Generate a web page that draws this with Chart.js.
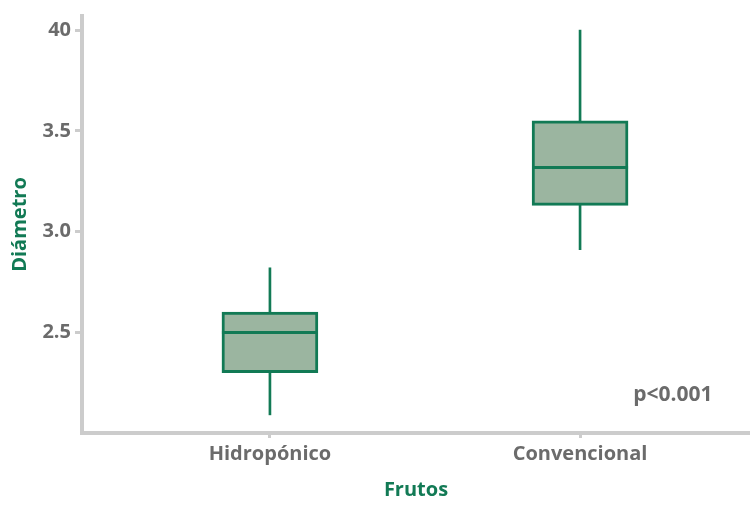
<!DOCTYPE html>
<html>
<head>
<meta charset="utf-8">
<script src="https://cdn.jsdelivr.net/npm/chart.js@4"></script>
<style>
  html, body { margin: 0; padding: 0; background: #fff; }
  #wrap { width: 750px; height: 506px; }
</style>
</head>
<body>
<div id="wrap"><canvas id="boxChart"></canvas></div>
<script>
const categories = ['Hidropónico', 'Convencional'];
const whiskerLow = [2.09, 2.91];
const q1 = [2.30, 3.13];
const median = [2.50, 3.32];
const q3 = [2.60, 3.55];
const whiskerHigh = [2.82, 4.00];
const yTicks = [2.5, 3.0, 3.5, 4.0];
const yTickLabels = ['2.5', '3.0', '3.5', '40'];
const pLabel = 'p<0.001';

const green = '#127a55';
const boxFill = '#9bb5a0';
const axisGray = '#cccccc';
const textGray = '#6b6b6b';
const font = "'Open Sans', 'Noto Sans', sans-serif";

const boxData = categories.map((c, i) => ({ x: i + 1, y: [q1[i], q3[i]] }));
const whiskerData = categories.map((c, i) => ({ x: i + 1, y: [whiskerLow[i], whiskerHigh[i]] }));

// median lines + p-value text, placed through the chart scales
const extras = {
    id: 'extras',
    afterDatasetsDraw(chart) {
        const { ctx, scales: { x, y } } = chart;
        const meta = chart.getDatasetMeta(1);
        ctx.save();
        ctx.strokeStyle = green;
        ctx.lineWidth = 3;
        median.forEach((m, i) => {
            const bar = meta.data[i];
            const half = bar.width / 2;
            const py = Math.round(y.getPixelForValue(m)) + 0.5;
            ctx.beginPath();
            ctx.moveTo(bar.x - half, py);
            ctx.lineTo(bar.x + half, py);
            ctx.stroke();
        });
        ctx.fillStyle = textGray;
        ctx.font = 'bold 21px ' + font;
        ctx.textAlign = 'right';
        ctx.textBaseline = 'middle';
        ctx.fillText(pLabel, x.getPixelForValue(2.427), y.getPixelForValue(2.19));
        ctx.restore();
    }
};

new Chart(document.getElementById('boxChart'), {
    type: 'bar',
    data: {
        datasets: [{
            label: 'whisker',
            data: whiskerData,
            backgroundColor: green,
            borderWidth: 0,
            barThickness: 2,
            grouped: false,
            order: 2
        }, {
            label: 'box',
            data: boxData,
            backgroundColor: boxFill,
            borderColor: green,
            borderWidth: 3,
            borderSkipped: false,
            barThickness: 96,
            grouped: false,
            order: 1
        }]
    },
    options: {
        responsive: true,
        maintainAspectRatio: false,
        animation: false,
        layout: { padding: { top: 14, right: 0, left: 4, bottom: 0 } },
        plugins: {
            legend: { display: false },
            tooltip: { enabled: false }
        },
        scales: {
            x: {
                type: 'linear',
                offset: false,
                min: 0.394,
                max: 2.548,
                afterBuildTicks: (scale) => { scale.ticks = [{ value: 1 }, { value: 2 }]; },
                afterFit: (scale) => { scale.height = 73; },
                ticks: {
                    color: textGray,
                    font: { family: font, size: 20, weight: 'bold' },
                    padding: 4,
                    callback: (v) => categories[v - 1]
                },
                grid: {
                    offset: false,
                    drawOnChartArea: false,
                    color: 'transparent',
                    tickColor: axisGray,
                    tickLength: 5,
                    tickWidth: 3
                },
                border: { color: axisGray, width: 4 },
                title: {
                    display: true,
                    text: 'Frutos',
                    color: green,
                    font: { family: font, size: 20, weight: 'bold' },
                    padding: { top: 8 }
                }
            },
            y: {
                min: 2.0,
                max: 4.07,
                afterBuildTicks: (scale) => { scale.ticks = yTicks.map(v => ({ value: v })); },
                afterFit: (scale) => { scale.width = 78; },
                ticks: {
                    color: textGray,
                    font: { family: font, size: 20, weight: 'bold' },
                    padding: 4,
                    callback: (v) => yTickLabels[yTicks.indexOf(v)]
                },
                grid: {
                    drawOnChartArea: false,
                    color: 'transparent',
                    tickColor: axisGray,
                    tickLength: 7,
                    tickWidth: 3
                },
                border: { color: axisGray, width: 4 },
                title: {
                    display: true,
                    text: 'Diámetro',
                    color: green,
                    font: { family: font, size: 20, weight: 'bold' },
                    padding: { bottom: 0 }
                }
            }
        }
    },
    plugins: [extras]
});
</script>
</body>
</html>
